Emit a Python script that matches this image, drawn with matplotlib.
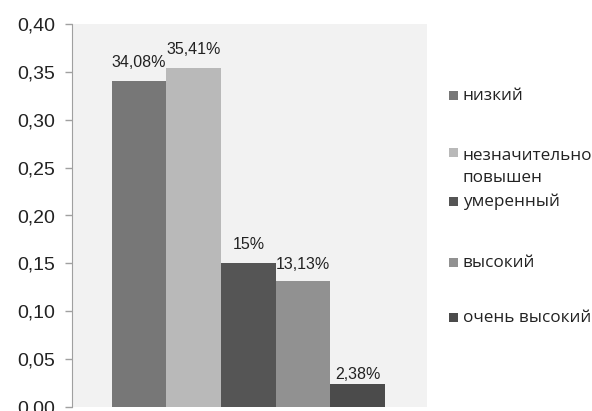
import matplotlib.pyplot as plt
from matplotlib.patches import Rectangle

categories = ['низкий', 'незначительно\nповышен', 'умеренный', 'высокий', 'очень высокий']
values = [0.3408, 0.3541, 0.15, 0.1313, 0.0238]
labels = ['34,08%', '35,41%', '15%', '13,13%', '2,38%']
colours = ['#777777', '#b9b9b9', '#555555', '#919191', '#4b4b4b']
yticks = [0.0, 0.05, 0.10, 0.15, 0.20, 0.25, 0.30, 0.35, 0.40]

W, H = 592, 411
fig = plt.figure(figsize=(W / 100, H / 100), dpi=100)
fig.patch.set_facecolor('white')
ax = fig.add_axes([72 / W, 4 / H, 355 / W, 383 / H])
ax.set_facecolor('#f2f2f2')

x = list(range(len(values)))
bars = ax.bar(x, values, width=1.0, color=colours, edgecolor='none')

# label offsets above bar tops (points), as the original places them
label_pads = [8, 8, 8, 7, 1.5]
for rect, lab, pad in zip(bars, labels, label_pads):
    ax.annotate(lab, (rect.get_x() + rect.get_width() / 2, rect.get_height()),
                xytext=(0, pad), textcoords='offset points', ha='center', va='bottom',
                fontsize=11.5, family='Liberation Sans', color='#222222')

ax.set_xlim(-1.23, 5.27)
ax.set_ylim(0, 0.40)
ax.set_yticks(yticks, [f'{t:.2f}'.replace('.', ',') for t in yticks],
              family='Liberation Sans', fontsize=14, color='#222222')
ax.set_xticks([])
ax.tick_params(axis='y', length=5, width=1, color='#a0a0a0', pad=7)

for side in ['top', 'right', 'bottom']:
    ax.spines[side].set_visible(False)
ax.spines['left'].set_color('#a0a0a0')

# legend, laid out by hand like the original (baseline of each entry's last line, px)
legend_baselines = [100, 182, 206, 267, 322]
for cat, col, yb in zip(categories, colours, legend_baselines):
    nlines = cat.count('\n')
    yfirst = yb - nlines * 25
    fig.add_artist(Rectangle((449 / W, 1 - yfirst / H), 9 / W, 9 / H,
                             transform=fig.transFigure, facecolor=col, edgecolor='none'))
    fig.text(463 / W, 1 - yb / H, cat, ha='left', va='baseline', family='Open Sans',
             fontsize=12.3, color='#222222', linespacing=1.46)

fig.savefig('out.png', dpi=100)
